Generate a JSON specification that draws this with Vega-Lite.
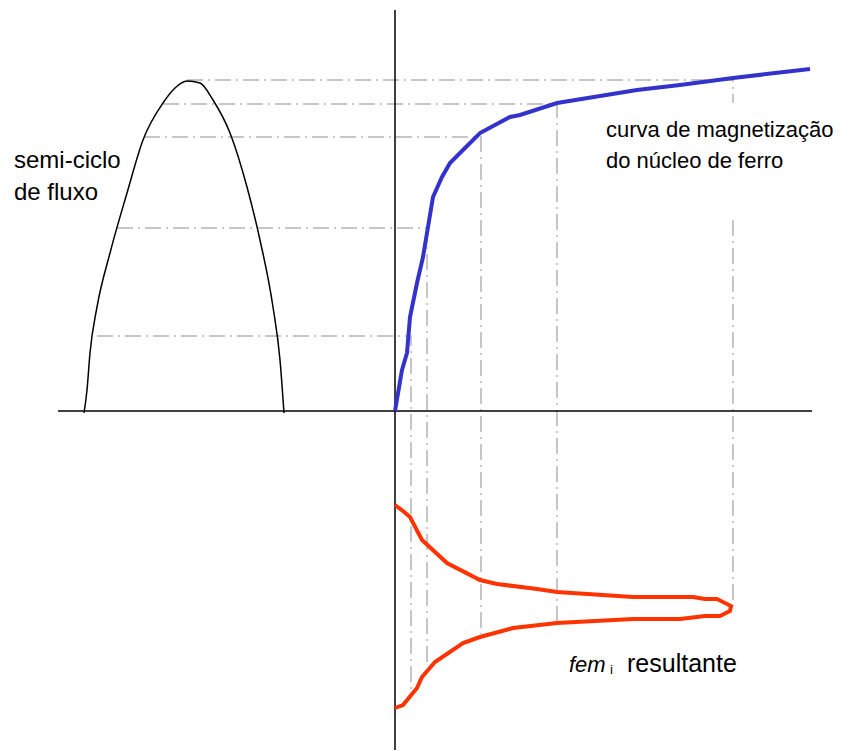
{
  "$schema": "https://vega.github.io/schema/vega-lite/v6.json",
  "width": 850,
  "height": 751,
  "padding": 0,
  "autosize": {"type": "none"},
  "config": {"view": {"stroke": null}},
  "datasets": {
    "guides": [
      {"seg": "g1", "i": 0, "x": 187, "y": 80}, {"seg": "g1", "i": 1, "x": 733, "y": 80}, {"seg": "g1", "i": 2, "x": 733, "y": 103},
      {"seg": "g1b", "i": 0, "x": 733, "y": 220}, {"seg": "g1b", "i": 1, "x": 733, "y": 606},
      {"seg": "g2", "i": 0, "x": 163, "y": 104}, {"seg": "g2", "i": 1, "x": 557, "y": 104}, {"seg": "g2", "i": 2, "x": 557, "y": 623},
      {"seg": "g3", "i": 0, "x": 144, "y": 137}, {"seg": "g3", "i": 1, "x": 481, "y": 137}, {"seg": "g3", "i": 2, "x": 481, "y": 634},
      {"seg": "g4", "i": 0, "x": 117, "y": 228}, {"seg": "g4", "i": 1, "x": 427, "y": 228}, {"seg": "g4", "i": 2, "x": 427, "y": 663},
      {"seg": "g5", "i": 0, "x": 97, "y": 336}, {"seg": "g5", "i": 1, "x": 411, "y": 336}, {"seg": "g5", "i": 2, "x": 411, "y": 690}
    ],
    "flux": [
      {"i": 0, "x": 84, "y": 413}, {"i": 1, "x": 87, "y": 390}, {"i": 2, "x": 90, "y": 353}, {"i": 3, "x": 97, "y": 307},
      {"i": 4, "x": 110, "y": 253}, {"i": 5, "x": 127, "y": 193}, {"i": 6, "x": 143, "y": 140}, {"i": 7, "x": 163, "y": 103},
      {"i": 8, "x": 175, "y": 88}, {"i": 9, "x": 187, "y": 81}, {"i": 10, "x": 200, "y": 83}, {"i": 11, "x": 213, "y": 100},
      {"i": 12, "x": 230, "y": 133}, {"i": 13, "x": 247, "y": 187}, {"i": 14, "x": 260, "y": 240}, {"i": 15, "x": 273, "y": 307},
      {"i": 16, "x": 280, "y": 360}, {"i": 17, "x": 284, "y": 413}
    ],
    "mag": [
      {"i": 0, "x": 395, "y": 411}, {"i": 1, "x": 402, "y": 370}, {"i": 2, "x": 407, "y": 353}, {"i": 3, "x": 410, "y": 317},
      {"i": 4, "x": 417, "y": 283}, {"i": 5, "x": 423, "y": 257}, {"i": 6, "x": 428, "y": 227}, {"i": 7, "x": 433, "y": 197},
      {"i": 8, "x": 442, "y": 177}, {"i": 9, "x": 450, "y": 163}, {"i": 10, "x": 463, "y": 150}, {"i": 11, "x": 480, "y": 133},
      {"i": 12, "x": 510, "y": 117}, {"i": 13, "x": 520, "y": 115}, {"i": 14, "x": 557, "y": 103}, {"i": 15, "x": 637, "y": 90},
      {"i": 16, "x": 680, "y": 85}, {"i": 17, "x": 733, "y": 78}, {"i": 18, "x": 810, "y": 69}
    ],
    "fem": [
      {"i": 0, "x": 395, "y": 505}, {"i": 1, "x": 403, "y": 511}, {"i": 2, "x": 410, "y": 517}, {"i": 3, "x": 422, "y": 540},
      {"i": 4, "x": 447, "y": 563}, {"i": 5, "x": 480, "y": 580}, {"i": 6, "x": 497, "y": 584}, {"i": 7, "x": 537, "y": 589},
      {"i": 8, "x": 557, "y": 592}, {"i": 9, "x": 633, "y": 597}, {"i": 10, "x": 693, "y": 597}, {"i": 11, "x": 705, "y": 599},
      {"i": 12, "x": 717, "y": 599}, {"i": 13, "x": 731, "y": 606}, {"i": 14, "x": 730, "y": 611}, {"i": 15, "x": 720, "y": 616},
      {"i": 16, "x": 705, "y": 616}, {"i": 17, "x": 680, "y": 619}, {"i": 18, "x": 633, "y": 619}, {"i": 19, "x": 557, "y": 623},
      {"i": 20, "x": 513, "y": 628}, {"i": 21, "x": 480, "y": 637}, {"i": 22, "x": 463, "y": 643}, {"i": 23, "x": 435, "y": 662},
      {"i": 24, "x": 422, "y": 677}, {"i": 25, "x": 417, "y": 688}, {"i": 26, "x": 403, "y": 705}, {"i": 27, "x": 395, "y": 708}
    ],
    "axes": [
      {"x1": 58, "x2": 812, "y1": 411, "y2": 411},
      {"x1": 395, "x2": 395, "y1": 10, "y2": 750}
    ],
    "labelsLeft": [
      {"text": "semi-ciclo", "x": 14, "y": 168},
      {"text": "de fluxo", "x": 14, "y": 200}
    ],
    "labelsRight": [
      {"text": "curva de magnetização", "x": 606, "y": 137},
      {"text": "do núcleo de ferro", "x": 606, "y": 168}
    ],
    "result": [{"text": "resultante", "x": 627, "y": 672}],
    "italic": [{"text": "fem", "x": 569, "y": 672}],
    "sub": [{"text": "i", "x": 610, "y": 674}]
  },
  "encoding": {
    "x": {"type": "quantitative", "scale": {"domain": [0, 850], "nice": false, "zero": false}, "axis": null},
    "y": {"type": "quantitative", "scale": {"domain": [0, 751], "nice": false, "zero": false, "reverse": true}, "axis": null}
  },
  "layer": [
    {
      "data": {"name": "guides"},
      "mark": {"type": "line", "color": "#b4b4b4", "strokeWidth": 1.5, "strokeDash": [16, 5, 2, 5]},
      "encoding": {"x": {"field": "x"}, "y": {"field": "y"}, "detail": {"field": "seg"}, "order": {"field": "i"}}
    },
    {
      "data": {"name": "axes"},
      "mark": {"type": "rule", "color": "#000000", "strokeWidth": 1.5},
      "encoding": {"x": {"field": "x1"}, "x2": {"field": "x2"}, "y": {"field": "y1"}, "y2": {"field": "y2"}}
    },
    {
      "data": {"name": "flux"},
      "mark": {"type": "line", "color": "#000000", "strokeWidth": 1.5, "interpolate": "monotone"},
      "encoding": {"x": {"field": "x"}, "y": {"field": "y"}, "order": {"field": "i"}}
    },
    {
      "data": {"name": "mag"},
      "mark": {"type": "line", "color": "#3333cc", "strokeWidth": 4},
      "encoding": {"x": {"field": "x"}, "y": {"field": "y"}, "order": {"field": "i"}}
    },
    {
      "data": {"name": "fem"},
      "mark": {"type": "line", "color": "#ff3300", "strokeWidth": 4},
      "encoding": {"x": {"field": "x"}, "y": {"field": "y"}, "order": {"field": "i"}}
    },
    {
      "data": {"name": "labelsLeft"},
      "mark": {"type": "text", "fontSize": 24, "align": "left", "baseline": "alphabetic", "color": "#000000"},
      "encoding": {"x": {"field": "x"}, "y": {"field": "y"}, "text": {"field": "text"}}
    },
    {
      "data": {"name": "labelsRight"},
      "mark": {"type": "text", "fontSize": 22, "align": "left", "baseline": "alphabetic", "color": "#000000"},
      "encoding": {"x": {"field": "x"}, "y": {"field": "y"}, "text": {"field": "text"}}
    },
    {
      "data": {"name": "result"},
      "mark": {"type": "text", "fontSize": 25, "align": "left", "baseline": "alphabetic", "color": "#000000"},
      "encoding": {"x": {"field": "x"}, "y": {"field": "y"}, "text": {"field": "text"}}
    },
    {
      "data": {"name": "italic"},
      "mark": {"type": "text", "fontSize": 22, "fontStyle": "italic", "align": "left", "baseline": "alphabetic", "color": "#000000"},
      "encoding": {"x": {"field": "x"}, "y": {"field": "y"}, "text": {"field": "text"}}
    },
    {
      "data": {"name": "sub"},
      "mark": {"type": "text", "fontSize": 13, "align": "left", "baseline": "alphabetic", "color": "#000000"},
      "encoding": {"x": {"field": "x"}, "y": {"field": "y"}, "text": {"field": "text"}}
    }
  ]
}
